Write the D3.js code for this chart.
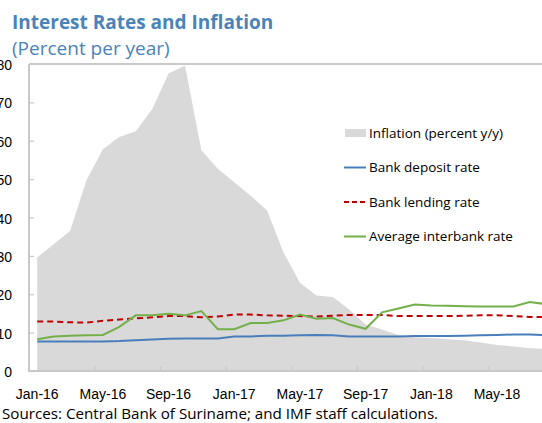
<!DOCTYPE html>
<html><head><meta charset="utf-8">
<script src="https://cdn.jsdelivr.net/npm/d3@7"></script>
<style>
body{margin:0;background:#fff;}
svg{display:block;font-family:"Open Sans","Noto Sans",sans-serif;}
</style></head>
<body><svg id="c" width="542" height="423"></svg>
<script>
const months = ["Jan-16","Feb-16","Mar-16","Apr-16","May-16","Jun-16","Jul-16","Aug-16","Sep-16","Oct-16","Nov-16","Dec-16",
"Jan-17","Feb-17","Mar-17","Apr-17","May-17","Jun-17","Jul-17","Aug-17","Sep-17","Oct-17","Nov-17","Dec-17",
"Jan-18","Feb-18","Mar-18","Apr-18","May-18","Jun-18","Jul-18","Aug-18"];
const tickLabels = ["Jan-16","May-16","Sep-16","Jan-17","May-17","Sep-17","Jan-18","May-18"];
const yTicks = [0,10,20,30,40,50,60,70,80];
const inflation = [29.6,33.0,36.5,49.7,57.8,61.0,62.5,68.2,77.5,79.6,57.5,52.7,49.2,45.7,41.8,30.9,23.0,19.7,19.3,16.0,12.1,10.8,9.4,8.8,8.6,8.3,8.0,7.4,6.8,6.4,5.9,5.8];
const deposit = [7.7,7.7,7.7,7.7,7.7,7.8,8.0,8.2,8.4,8.5,8.5,8.5,9.0,9.0,9.2,9.2,9.3,9.4,9.3,9.0,9.0,9.0,9.0,9.1,9.1,9.1,9.2,9.3,9.4,9.5,9.5,9.3];
const lending = [12.9,12.9,12.7,12.6,13.1,13.4,13.7,14.0,14.3,14.3,14.0,14.2,14.7,14.7,14.5,14.4,14.3,14.2,14.4,14.6,14.6,14.6,14.3,14.3,14.3,14.3,14.4,14.5,14.5,14.3,14.1,14.1];
const interbank = [8.3,9.0,9.2,9.3,9.4,11.5,14.5,14.5,14.9,14.5,15.6,10.9,10.9,12.5,12.5,13.2,14.7,13.6,13.8,12.1,11.0,15.3,16.3,17.3,17.1,17.0,16.9,16.8,16.8,16.8,18.0,17.4];
const seriesNames = ["Inflation (percent y/y)","Bank deposit rate","Bank lending rate","Average interbank rate"];

const svg = d3.select("#c");
const pLeft = 29, pTop = 64, pBottom = 371, bw = 16.42;
const x = d3.scaleBand().domain(months).range([pLeft, pLeft + bw*months.length]).padding(0);
const cx = m => x(m) + x.bandwidth()/2;
const y = d3.scaleLinear().domain([0,80]).range([pBottom, pTop]);

// inflation area
const area = d3.area().x((d,i)=>cx(months[i])).y0(y(0)).y1(d=>y(d));
svg.append("path").datum(inflation).attr("d", area).attr("fill","#d9d9d9");

// frame
const axisCol = "#c9c9c9";
svg.append("line").attr("x1",pLeft).attr("x2",542).attr("y1",pTop).attr("y2",pTop).attr("stroke",axisCol).attr("stroke-width",2);
svg.append("line").attr("x1",pLeft).attr("x2",pLeft).attr("y1",pTop).attr("y2",pBottom).attr("stroke",axisCol).attr("stroke-width",2);

// y axis
const yAxis = d3.axisLeft(y).tickValues(yTicks).tickSize(-5).tickPadding(17);
const ya = svg.append("g").attr("transform",`translate(${pLeft},0)`).call(yAxis);
ya.select(".domain").remove();
ya.selectAll(".tick line").attr("stroke",axisCol).attr("stroke-width",1.2);
ya.selectAll(".tick text").attr("font-size",14).attr("fill","#000").attr("dy",null).attr("y",5.5).attr("x",-17).attr("text-anchor","end");

// x axis
const xAxis = d3.axisBottom(x).tickValues(tickLabels).tickSize(0).tickPadding(19);
const xa = svg.append("g").attr("transform",`translate(0,${pBottom})`).call(xAxis);
xa.select(".domain").remove();
xa.selectAll(".tick text").attr("font-size",14).attr("fill","#000").attr("dy",null).attr("y",28);
// tick marks between categories
svg.append("g").selectAll("line").data(tickLabels).join("line")
  .attr("x1",d=>x(d)).attr("x2",d=>x(d)).attr("y1",pBottom).attr("y2",pBottom-5)
  .attr("stroke",axisCol).attr("stroke-width",1.2);
svg.append("line").attr("x1",pLeft-1).attr("x2",542).attr("y1",pBottom).attr("y2",pBottom).attr("stroke",axisCol).attr("stroke-width",2);

// lines
const line = d3.line().x((d,i)=>cx(months[i])).y(d=>y(d));
svg.append("path").datum(deposit).attr("d",line).attr("fill","none").attr("stroke","#4a7ebb").attr("stroke-width",2);
svg.append("path").datum(lending).attr("d",line).attr("fill","none").attr("stroke","#c00000").attr("stroke-width",2).attr("stroke-dasharray","6,4");
svg.append("path").datum(interbank).attr("d",line).attr("fill","none").attr("stroke","#73b04a").attr("stroke-width",2);

// legend
const lg = svg.append("g");
const lys = [133,167.5,202,236.5];
lg.append("rect").attr("x",345).attr("y",lys[0]-4).attr("width",21).attr("height",8).attr("fill","#d9d9d9");
lg.append("line").attr("x1",344).attr("x2",366).attr("y1",lys[1]).attr("y2",lys[1]).attr("stroke","#4a7ebb").attr("stroke-width",2);
lg.append("line").attr("x1",344).attr("x2",366).attr("y1",lys[2]).attr("y2",lys[2]).attr("stroke","#c00000").attr("stroke-width",2).attr("stroke-dasharray","5,3");
lg.append("line").attr("x1",344).attr("x2",366).attr("y1",lys[3]).attr("y2",lys[3]).attr("stroke","#73b04a").attr("stroke-width",2);
lg.selectAll("text").data(seriesNames).join("text")
  .attr("x",369).attr("y",(d,i)=>lys[i]).attr("dy","0.35em").attr("font-size",13.5).attr("fill","#000").text(d=>d);

// titles
svg.append("text").attr("x",12).attr("y",29).attr("font-size",19).attr("font-weight","bold").attr("fill","#4a83b8").text("Interest Rates and Inflation");
svg.append("text").attr("x",12).attr("y",55).attr("font-size",19).attr("fill","#4a83b8").text("(Percent per year)");
svg.append("text").attr("x",2).attr("y",418.5).attr("font-size",15.2).attr("fill","#000").text("Sources: Central Bank of Suriname; and IMF staff calculations.");
</script></body></html>
